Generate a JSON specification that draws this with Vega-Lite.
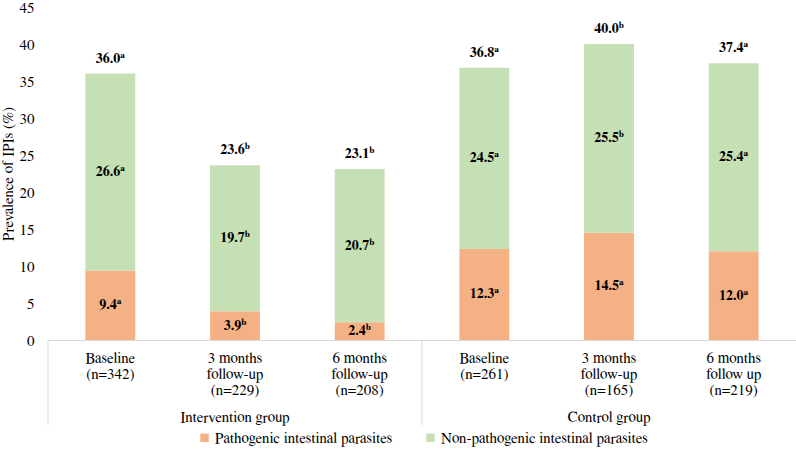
{
  "$schema": "https://vega.github.io/schema/vega-lite/v6.json",
  "width": 748,
  "height": 333,
  "padding": {"left": 0, "top": 0, "right": 0, "bottom": 5},
  "config": {
    "view": {"stroke": null},
    "font": "Nimbus Roman, FreeSerif, DejaVu Serif Condensed, DejaVu Serif",
    "legend": {"layout": {"bottom": {"anchor": "middle"}}},
    "axisY": {
      "titleFont": "Nimbus Roman, FreeSerif, DejaVu Serif Condensed, DejaVu Serif",
      "titleFontSize": 15,
      "titleFontWeight": "normal",
      "titleColor": "#000",
      "titlePadding": 3,
      "labelFont": "Nimbus Roman, FreeSerif, DejaVu Serif Condensed, DejaVu Serif",
      "labelFontSize": 15,
      "labelColor": "#000",
      "labelPadding": 14,
      "labelOverlap": false,
      "labelFlush": false,
      "labelBound": false,
      "grid": false,
      "domain": false,
      "ticks": false
    }
  },
  "datasets": {
    "segs": [
      {"cat": "Baseline|(n=342)", "type": "Pathogenic intestinal parasites", "value": 9.4, "sup": "a"},
      {"cat": "Baseline|(n=342)", "type": "Non-pathogenic intestinal parasites", "value": 26.6, "sup": "a"},
      {"cat": "3 months|follow-up|(n=229)", "type": "Pathogenic intestinal parasites", "value": 3.9, "sup": "b"},
      {"cat": "3 months|follow-up|(n=229)", "type": "Non-pathogenic intestinal parasites", "value": 19.7, "sup": "b"},
      {"cat": "6 months|follow-up|(n=208)", "type": "Pathogenic intestinal parasites", "value": 2.4, "sup": "b"},
      {"cat": "6 months|follow-up|(n=208)", "type": "Non-pathogenic intestinal parasites", "value": 20.7, "sup": "b"},
      {"cat": "Baseline|(n=261)", "type": "Pathogenic intestinal parasites", "value": 12.3, "sup": "a"},
      {"cat": "Baseline|(n=261)", "type": "Non-pathogenic intestinal parasites", "value": 24.5, "sup": "a"},
      {"cat": "3 months|follow-up|(n=165)", "type": "Pathogenic intestinal parasites", "value": 14.5, "sup": "a"},
      {"cat": "3 months|follow-up|(n=165)", "type": "Non-pathogenic intestinal parasites", "value": 25.5, "sup": "b"},
      {"cat": "6 months|follow up|(n=219)", "type": "Pathogenic intestinal parasites", "value": 12.0, "sup": "a"},
      {"cat": "6 months|follow up|(n=219)", "type": "Non-pathogenic intestinal parasites", "value": 25.4, "sup": "a"}
    ],
    "totals": [
      {"cat": "Baseline|(n=342)", "total": 36.0, "sup": "a"},
      {"cat": "3 months|follow-up|(n=229)", "total": 23.6, "sup": "b"},
      {"cat": "6 months|follow-up|(n=208)", "total": 23.1, "sup": "b"},
      {"cat": "Baseline|(n=261)", "total": 36.8, "sup": "a"},
      {"cat": "3 months|follow-up|(n=165)", "total": 40.0, "sup": "b"},
      {"cat": "6 months|follow up|(n=219)", "total": 37.4, "sup": "a"}
    ],
    "groups": [
      {"cat": "3 months|follow-up|(n=229)", "name": "Intervention group"},
      {"cat": "3 months|follow-up|(n=165)", "name": "Control group"}
    ],
    "seps": [
      {"cat": "Baseline|(n=342)"},
      {"cat": "Baseline|(n=261)"}
    ]
  },
  "encoding": {
    "x": {
      "field": "cat",
      "type": "nominal",
      "sort": null,
      "scale": {
        "domain": ["Baseline|(n=342)", "3 months|follow-up|(n=229)", "6 months|follow-up|(n=208)", "Baseline|(n=261)", "3 months|follow-up|(n=165)", "6 months|follow up|(n=219)"],
        "paddingInner": 0,
        "paddingOuter": 0
      },
      "axis": {
        "title": null,
        "labelExpr": "split(datum.label, '|')",
        "labelAngle": 0,
        "labelFont": "Nimbus Roman, FreeSerif, DejaVu Serif Condensed, DejaVu Serif",
        "labelFontSize": 15,
        "labelLineHeight": 16,
        "labelPadding": 10,
        "labelColor": "#000",
        "labelBaseline": "top",
        "ticks": false,
        "domainColor": "#d9d9d9",
        "domainWidth": 1
      }
    }
  },
  "layer": [
    {
      "data": {"name": "segs"},
      "mark": {"type": "bar", "width": {"band": 0.4}},
      "encoding": {
        "y": {
          "field": "value",
          "type": "quantitative",
          "stack": "zero",
          "scale": {"domain": [0, 45]},
          "axis": {"title": "Prevalence of IPIs (%)", "values": [0, 5, 10, 15, 20, 25, 30, 35, 40, 45]}
        },
        "color": {
          "field": "type",
          "type": "nominal",
          "scale": {
            "domain": ["Pathogenic intestinal parasites", "Non-pathogenic intestinal parasites"],
            "range": ["#F4B183", "#C5E0B4"]
          },
          "legend": {
            "title": null,
            "orient": "bottom",
            "direction": "horizontal",
            "symbolType": "square",
            "symbolSize": 70,
            "symbolStrokeWidth": 0,
            "labelFontSize": 15,
            "labelColor": "#000",
            "labelFont": "Nimbus Roman, FreeSerif, DejaVu Serif Condensed, DejaVu Serif",
            "labelLimit": 0,
            "labelOffset": 3,
            "columnPadding": 30,
            "offset": 33
          }
        },
        "order": {"field": "type", "sort": "descending"}
      }
    },
    {
      "data": {"name": "segs"},
      "transform": [
        {"stack": "value", "groupby": ["cat"], "sort": [{"field": "type", "order": "descending"}], "as": ["y0", "y1"]},
        {"calculate": "(datum.y0 + datum.y1) / 2", "as": "mid"},
        {"calculate": "format(datum.value, '.1f') + (datum.sup == 'a' ? 'ᵃ' : 'ᵇ')", "as": "label"}
      ],
      "mark": {"type": "text", "fontSize": 14, "fontWeight": "bold", "font": "Nimbus Roman, FreeSerif, DejaVu Serif Condensed, DejaVu Serif", "color": "#000"},
      "encoding": {
        "y": {"field": "mid", "type": "quantitative", "axis": {"title": "Prevalence of IPIs (%)", "values": [0, 5, 10, 15, 20, 25, 30, 35, 40, 45]}},
        "text": {"field": "label"}
      }
    },
    {
      "data": {"name": "totals"},
      "transform": [
        {"calculate": "format(datum.total, '.1f') + (datum.sup == 'a' ? 'ᵃ' : 'ᵇ')", "as": "label"}
      ],
      "mark": {"type": "text", "fontSize": 14, "fontWeight": "bold", "font": "Nimbus Roman, FreeSerif, DejaVu Serif Condensed, DejaVu Serif", "color": "#000", "baseline": "bottom", "dy": -8},
      "encoding": {
        "y": {"field": "total", "type": "quantitative", "axis": {"title": "Prevalence of IPIs (%)", "values": [0, 5, 10, 15, 20, 25, 30, 35, 40, 45]}},
        "text": {"field": "label"}
      }
    },
    {
      "data": {"name": "groups"},
      "mark": {"type": "text", "fontSize": 15, "color": "#000", "font": "Nimbus Roman, FreeSerif, DejaVu Serif Condensed, DejaVu Serif"},
      "encoding": {
        "y": {"datum": -10.4, "axis": {"title": "Prevalence of IPIs (%)", "values": [0, 5, 10, 15, 20, 25, 30, 35, 40, 45]}},
        "text": {"field": "name"}
      }
    },
    {
      "data": {"name": "seps"},
      "mark": {"type": "rule", "color": "#d9d9d9", "strokeWidth": 1},
      "encoding": {
        "x": {"field": "cat", "type": "nominal", "bandPosition": 0},
        "y": {"datum": 0, "axis": {"title": "Prevalence of IPIs (%)", "values": [0, 5, 10, 15, 20, 25, 30, 35, 40, 45]}},
        "y2": {"datum": -11.5}
      }
    }
  ]
}
